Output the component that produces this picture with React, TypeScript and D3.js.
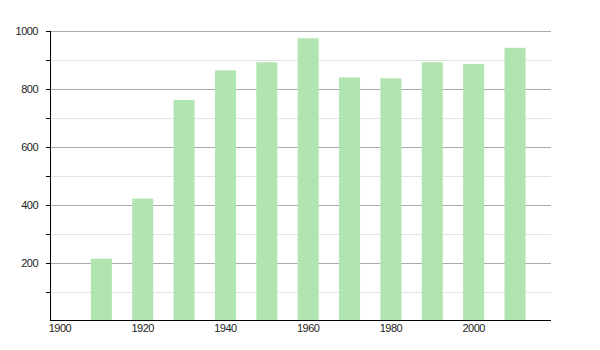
import React from "react";
import * as d3 from "d3";

const years = [1910, 1920, 1930, 1940, 1950, 1960, 1970, 1980, 1990, 2000, 2010];
const population = [215, 422, 762, 864, 892, 975, 840, 837, 892, 886, 942];
const yMajorTicks = [200, 400, 600, 800, 1000];
const yMinorTicks = [100, 300, 500, 700, 900];
const xTickLabels = [1900, 1920, 1940, 1960, 1980, 2000];

export default function App() {
  const W = 600, H = 350;
  const left = 50, right = 551, top = 31, bottom = 321;
  const x = d3.scaleLinear().domain([1900, 2010]).range([60, 515]);
  const y = d3.scaleLinear().domain([0, 1000]).range([bottom, top]);
  const bw = 21;
  const font = "Liberation Sans, Arial, sans-serif";
  return (
    <svg width={W} height={H} style={{ position: "absolute", left: 0, top: 0, background: "#fff" }}>
      {yMinorTicks.map((t) => (
        <g key={"mi" + t}>
          <line x1={left} x2={right} y1={Math.round(y(t)) + 0.5} y2={Math.round(y(t)) + 0.5} stroke="#e3e3e3" />
          <line x1={left - 4} x2={left} y1={Math.round(y(t)) + 0.5} y2={Math.round(y(t)) + 0.5} stroke="#000" />
        </g>
      ))}
      {yMajorTicks.map((t) => (
        <g key={"ma" + t}>
          <line x1={left} x2={right} y1={Math.round(y(t)) + 0.5} y2={Math.round(y(t)) + 0.5} stroke="#aaaaaa" />
          <line x1={left - 4} x2={left} y1={Math.round(y(t)) + 0.5} y2={Math.round(y(t)) + 0.5} stroke="#000" />
          <text x={left - 12} y={y(t)} dy="0.35em" textAnchor="end" fontSize={11} fontFamily={font} fill="#222" letterSpacing={-0.5}>
            {t}
          </text>
        </g>
      ))}
      {years.map((yr, i) => (
        <rect key={yr} x={x(yr) - bw / 2} y={y(population[i])} width={bw} height={bottom - y(population[i])} fill="#b0e4b0" />
      ))}
      <line x1={left + 0.5} x2={left + 0.5} y1={top} y2={bottom} stroke="#000" />
      <line x1={left} x2={right} y1={bottom - 0.5} y2={bottom - 0.5} stroke="#000" />
      {xTickLabels.map((t) => (
        <text key={"x" + t} x={x(t)} y={bottom + 11} textAnchor="middle" fontSize={11} fontFamily={font} fill="#222" letterSpacing={-0.5}>
          {t}
        </text>
      ))}
    </svg>
  );
}
